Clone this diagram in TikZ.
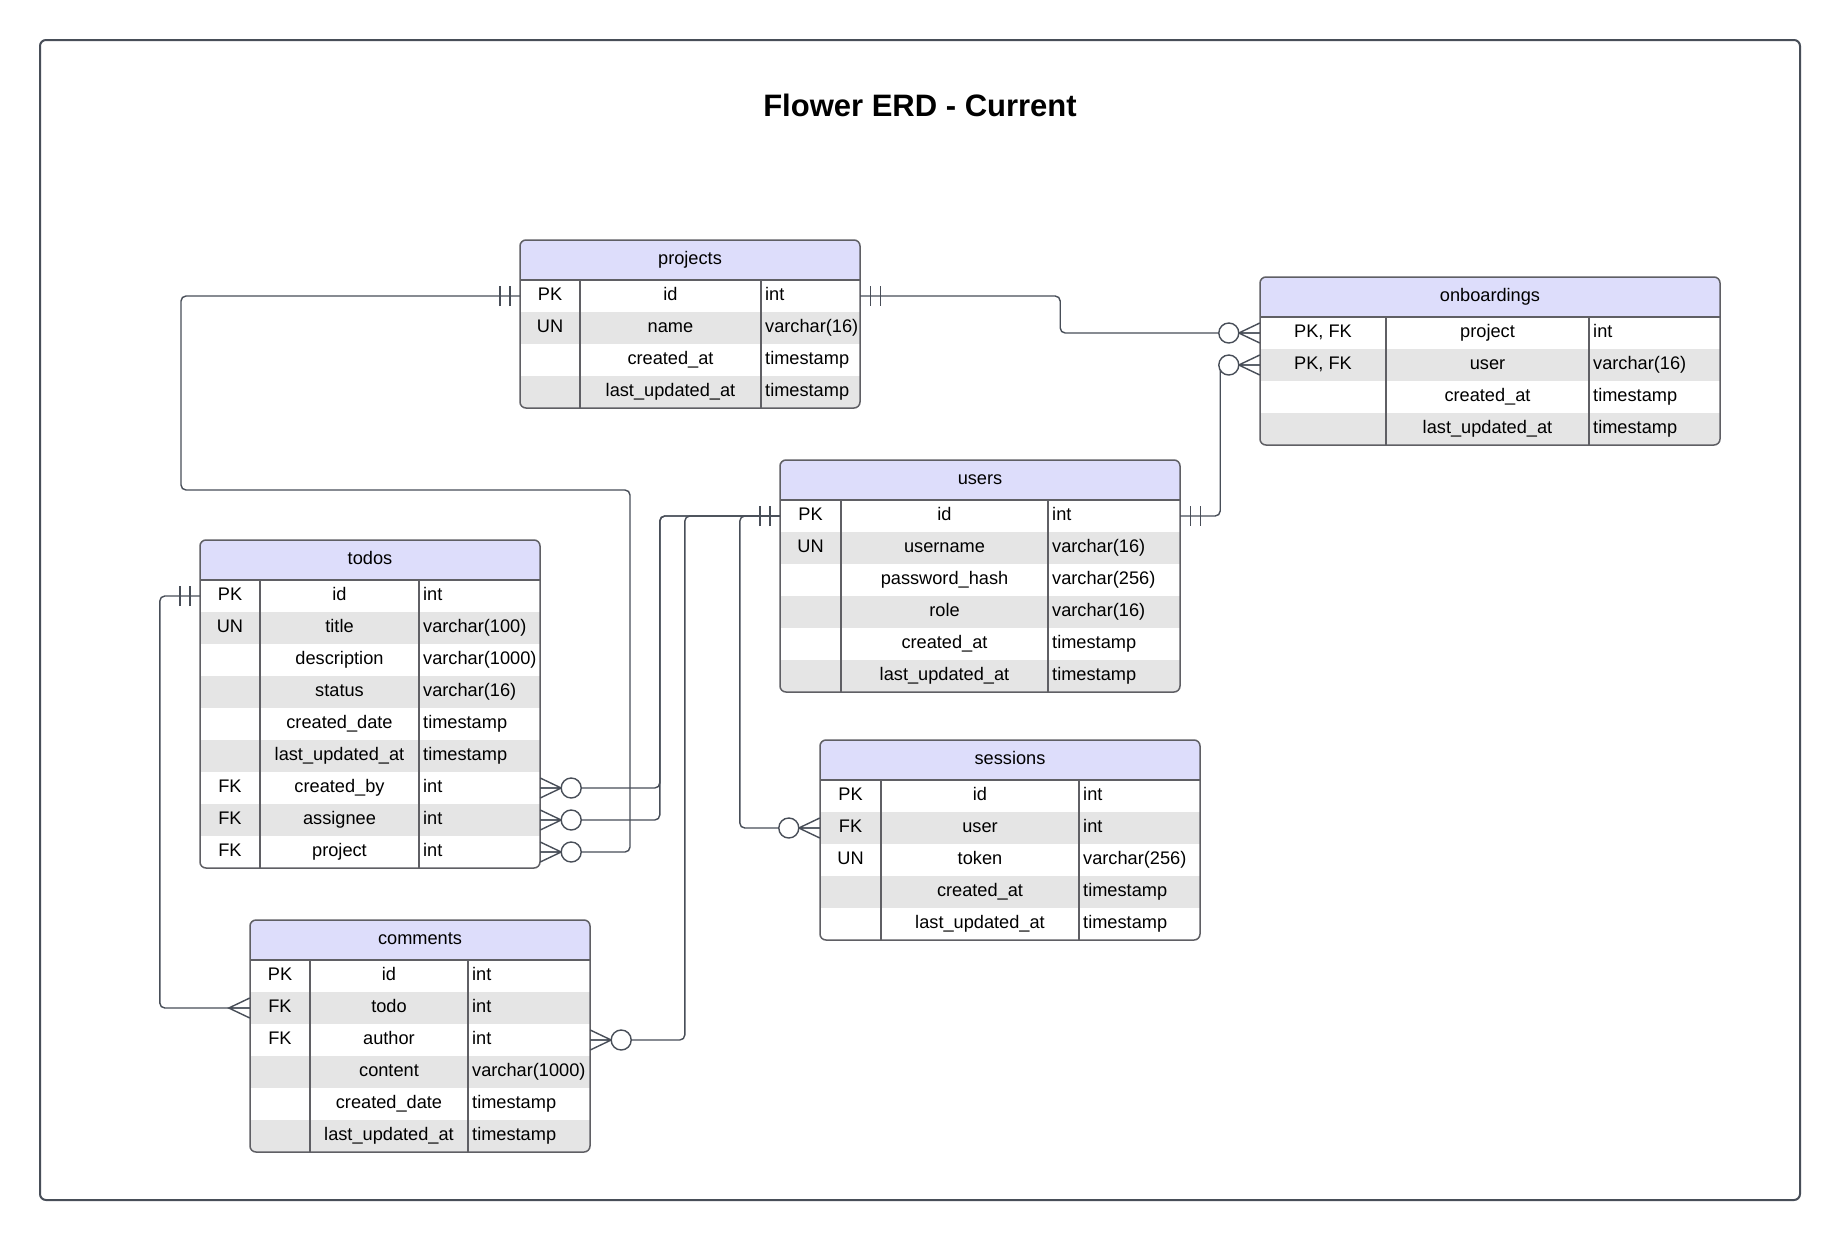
\documentclass[tikz,border=0pt]{standalone}
\usepackage{fontspec}
\setmainfont{Liberation Sans}
\definecolor{headfill}{RGB}{221,221,251}
\definecolor{rowgray}{RGB}{229,229,229}
\definecolor{bordc}{RGB}{95,95,100}
\definecolor{linec}{RGB}{72,78,88}
\tikzset{
  conn/.style={draw=linec, line width=1.4pt, rounded corners=5pt},
  tablebox/.style={draw=bordc, line width=1.5pt, rounded corners=6pt, inner sep=0pt},
  divline/.style={draw=bordc, line width=1.3pt},
  rowbox/.style={inner sep=0pt, minimum height=32pt},
  celltext/.style={inner sep=0pt, font=\fontsize{18.2pt}{21pt}\selectfont},
  titletext/.style={inner sep=0pt, font=\bfseries\fontsize{31pt}{36pt}\selectfont},
  onebar/.pic={\draw[conn, sharp corners] (10,-10) -- (10,10) (20,-10) -- (20,10);},
  zeromany/.pic={\draw[conn, sharp corners] (0,-10) -- (21,0) -- (0,10) (0,0) -- (21,0);
                 \draw[conn, fill=white] (31,0) circle (10);},
  crowmany/.pic={\draw[conn, sharp corners] (0,-10) -- (21,0) -- (0,10) (0,0) -- (21,0);}
}
% #1 name, #2 x1, #3 x2, #4 top, #5 div1, #6 div2, #7 rows, #8 title, #9 row list
\newcommand\erdtable[9]{%
  \pgfmathsetmacro\erdbot{#4+40+32*#7}%
  \pgfmathsetmacro\erdw{#3-#2}%
  \pgfmathsetmacro\erdh{40+32*#7}%
  \begin{scope}
    \clip[rounded corners=6pt] (#2,#4) rectangle (#3,\erdbot);
    \fill[white] (#2,#4) rectangle (#3,\erdbot);
    \fill[headfill] (#2,#4) rectangle (#3,{#4+40});
    \foreach \erdk/\erdn/\erdt [count=\i] in {#9}{%
      \ifodd\i\else\fill[rowgray] (#2,{#4+8+32*\i}) rectangle (#3,{#4+40+32*\i});\fi
    }
  \end{scope}
  \draw[divline] (#2,{#4+40}) -- (#3,{#4+40});
  \draw[divline] (#5,{#4+40}) -- (#5,\erdbot);
  \draw[divline] (#6,{#4+40}) -- (#6,\erdbot);
  \node[tablebox, minimum width=\erdw pt, minimum height=\erdh pt] (#1) at ({(#2+#3)/2},{(#4+\erdbot)/2}) {};
  \node[celltext, anchor=base] (#1-title) at ({(#2+#3)/2},{#4+24}) {#8};
  \foreach \erdk/\erdn/\erdt [count=\i] in {#9}{%
    \node[rowbox, minimum width=\erdw pt] (#1-r\i) at ({(#2+#3)/2},{#4+24+32*\i}) {};
    \node[celltext, anchor=base] (#1-k\i) at ({(#2+#5)/2},{#4+28+32*\i}) {\erdk};
    \node[celltext, anchor=base] (#1-n\i) at ({(#5+#6)/2},{#4+28+32*\i}) {\erdn};
    \node[celltext, anchor=base west] (#1-t\i) at ({#6+4},{#4+28+32*\i}) {\erdt};
  }%
}
\begin{document}
\begin{tikzpicture}[x=1pt,y=-1pt]
\useasboundingbox (0,0) rectangle (1840,1240);
\fill[white] (0,0) rectangle (1840,1240);
\node[draw=linec, line width=2pt, rounded corners=6pt, minimum width=1760pt, minimum height=1160pt, inner sep=0pt] (frame) at (920,620) {};
\node[titletext, anchor=base] (title) at (920,116) {Flower ERD - Current};

\erdtable{projects}{520}{860}{240}{580}{761}{4}{projects}{%
  PK/id/int, UN/name/varchar(16), {}/created\_at/timestamp, {}/last\_updated\_at/timestamp}
\erdtable{onboardings}{1260}{1720}{277}{1386}{1589}{4}{onboardings}{%
  {PK, FK}/project/int, {PK, FK}/user/varchar(16), {}/created\_at/timestamp, {}/last\_updated\_at/timestamp}
\erdtable{users}{780}{1180}{460}{841}{1048}{6}{users}{%
  PK/id/int, UN/username/varchar(16), {}/password\_hash/varchar(256), {}/role/varchar(16),
  {}/created\_at/timestamp, {}/last\_updated\_at/timestamp}
\erdtable{todos}{200}{540}{540}{260}{419}{9}{todos}{%
  PK/id/int, UN/title/varchar(100), {}/description/varchar(1000), {}/status/varchar(16),
  {}/created\_date/timestamp, {}/last\_updated\_at/timestamp, FK/created\_by/int,
  FK/assignee/int, FK/project/int}
\erdtable{sessions}{820}{1200}{740}{881}{1079}{5}{sessions}{%
  PK/id/int, FK/user/int, UN/token/varchar(256), {}/created\_at/timestamp, {}/last\_updated\_at/timestamp}
\erdtable{comments}{250}{590}{920}{310}{468}{6}{comments}{%
  PK/id/int, FK/todo/int, FK/author/int, {}/content/varchar(1000),
  {}/created\_date/timestamp, {}/last\_updated\_at/timestamp}

% connectors
\draw[conn] (projects-r1.west) -| (181,490) -- (630,490) |- (todos-r9.east);
\draw[conn] (projects-r1.east) -- ++(200,0) |- (onboardings-r1.west);
\draw[conn] (users-r1.east) -- ++(40,0) |- (onboardings-r2.west);
\draw[conn] (users-r1.west) -- ++(-120,0) |- (todos-r7.east);
\draw[conn] (users-r1.west) -- ++(-120,0) |- (todos-r8.east);
\draw[conn] (users-r1.west) -- ++(-95,0) |- (comments-r3.east);
\draw[conn] (users-r1.west) -- ++(-40,0) |- (sessions-r2.west);
\draw[conn] (todos-r1.west) -- ++(-40,0) |- (comments-r2.west);

% cardinality marks
\pic[rotate=180] at (projects-r1.west) {onebar};
\pic at (projects-r1.east) {onebar};
\pic at (users-r1.east) {onebar};
\pic[rotate=180] at (users-r1.west) {onebar};
\pic[rotate=180] at (todos-r1.west) {onebar};
\pic at (todos-r7.east) {zeromany};
\pic at (todos-r8.east) {zeromany};
\pic at (todos-r9.east) {zeromany};
\pic[rotate=180] at (onboardings-r1.west) {zeromany};
\pic[rotate=180] at (onboardings-r2.west) {zeromany};
\pic at (comments-r3.east) {zeromany};
\pic[rotate=180] at (sessions-r2.west) {zeromany};
\pic[rotate=180] at (comments-r2.west) {crowmany};
\end{tikzpicture}
\end{document}
